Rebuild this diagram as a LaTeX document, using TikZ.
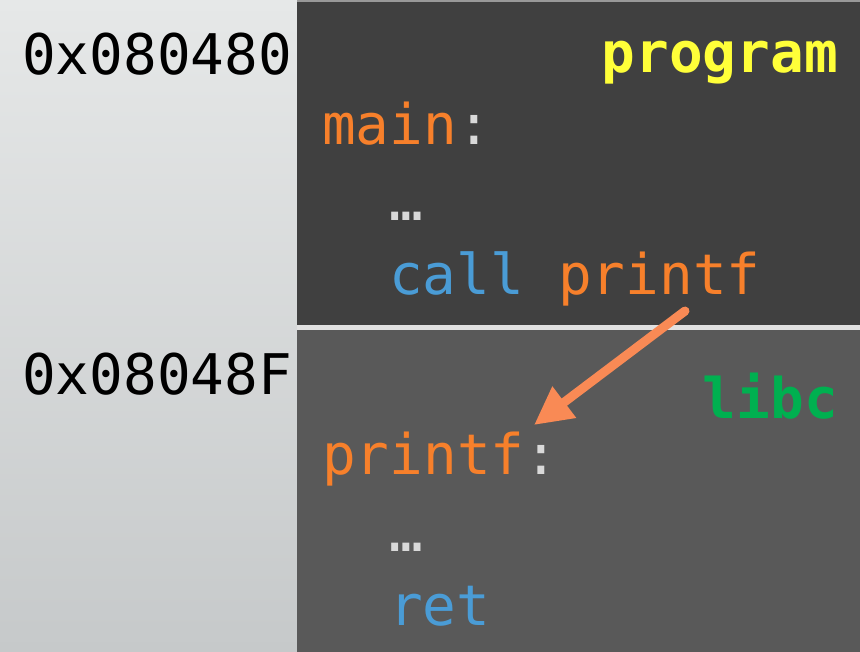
\documentclass[tikz,border=0pt]{standalone}
\usepackage{fontspec}
\setmonofont{DejaVu Sans Mono}
\usepackage{tikz}
\usetikzlibrary{arrows.meta,positioning}
\definecolor{codeorange}{HTML}{F7802B}
\definecolor{arroworange}{HTML}{F98A55}
\definecolor{codeblue}{HTML}{4A9CD6}
\definecolor{codeyellow}{HTML}{FFFF39}
\definecolor{codegreen}{HTML}{00B050}
\definecolor{codegray}{HTML}{D9D9D9}
\definecolor{progbg}{HTML}{404040}
\definecolor{libbg}{HTML}{595959}
\tikzset{
    code/.style={anchor=base west,inner sep=0pt,font=\ttfamily\fontsize{56}{60}\selectfont},
    addr/.style={code,text=black},
    label/.style={code,font=\ttfamily\bfseries\fontsize{56}{60}\selectfont,anchor=base east}
}

\begin{document}
\begin{tikzpicture}[x=1pt,y=-1pt]
        \useasboundingbox (0,0) rectangle (860,652);
        % background and the two memory regions
        \shade[top color={rgb,255:red,230;green,232;blue,232},bottom color={rgb,255:red,198;green,201;blue,202}] (0,0) rectangle (297,652);
        \fill[progbg] (297,0) rectangle (860,325);
        \draw[gray!80,line width=1.5pt] (297,1) -- (860,1);
        \fill[codegray!80!white] (297,325) rectangle (860,330);
        \fill[libbg] (297,330) rectangle (860,652);

        % addresses
        \node[addr] (A) at (22,75)  {0x080480};
        \node[addr] (B) at (22,395) {0x08048F};

        % program
        \node[label,text=codeyellow] (P) at (838,73) {program};
        \node[code,text=codeorange] (main) at (322,145) {main\textcolor{codegray}{:}};
        \node[code,text=codegray]   (dotsA) at (389,221) {…};
        \node[code,text=codeblue]   (call) at (389,295) {call};
        \node[code,text=codeorange,right=33.7pt of call.base east,anchor=base west] (callee) {printf};

        % libc
        \node[label,text=codegreen] (L) at (838,418) {libc};
        \node[code,text=codeorange] (printf) at (322,475) {printf\textcolor{codegray}{:}};
        \node[code,text=codegray]   (dotsB) at (389,551) {…};
        \node[code,text=codeblue]   (ret) at (389,625) {ret};

        \coordinate (from) at (685,311);
        \coordinate (to) at (534,425);
        \draw[arroworange,line width=9pt,line cap=round,-{Triangle[length=38pt,width=37pt]}] (from) -- (to);
\end{tikzpicture}
\end{document}
